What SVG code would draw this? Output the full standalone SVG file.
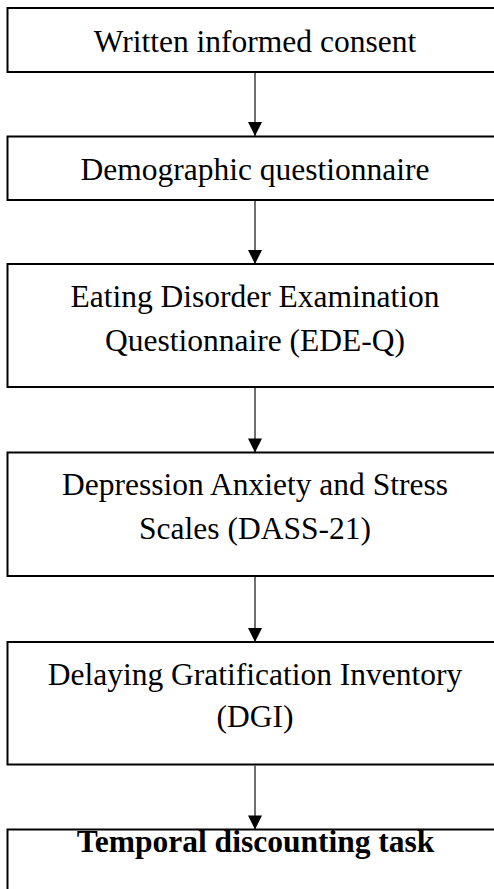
<svg xmlns="http://www.w3.org/2000/svg" width="494" height="889" viewBox="0 0 494 889">
<style>
.box{fill:#fff;stroke:#000;stroke-width:2}
.t{font-family:"Liberation Serif","Times New Roman",serif;font-size:31.5px;fill:#000;text-anchor:middle}
.b{font-weight:bold}
.c{stroke:#222;stroke-width:1.3;fill:none}
</style>
<defs>
<marker id="ah" markerUnits="userSpaceOnUse" markerWidth="16" markerHeight="14" refX="14" refY="7" orient="auto" viewBox="0 0 14 14">
<polygon points="0,0 14,7 0,14" fill="#000"/>
</marker>
</defs>
<rect width="494" height="889" fill="#fff"/>
<g id="connectors">
<line class="c" x1="255" y1="73" x2="255" y2="136" marker-end="url(#ah)"/>
<line class="c" x1="255" y1="201" x2="255" y2="264" marker-end="url(#ah)"/>
<line class="c" x1="255" y1="388" x2="255" y2="452.5" marker-end="url(#ah)"/>
<line class="c" x1="255" y1="577" x2="255" y2="642" marker-end="url(#ah)"/>
<line class="c" x1="255" y1="765.5" x2="255" y2="829.5" marker-end="url(#ah)"/>
</g>
<g id="n1"><rect class="box" x="7.5" y="8" width="500" height="64"/><text class="t" x="255" y="51.5">Written informed consent</text></g>
<g id="n2"><rect class="box" x="7.5" y="136.5" width="500" height="63.5"/><text class="t" x="255" y="180">Demographic questionnaire</text></g>
<g id="n3"><rect class="box" x="7.5" y="264" width="500" height="123"/><text class="t" x="255" y="306.5">Eating Disorder Examination</text><text class="t" x="255" y="350.5">Questionnaire (EDE-Q)</text></g>
<g id="n4"><rect class="box" x="7.5" y="452.5" width="500" height="123.5"/><text class="t" x="255" y="495">Depression Anxiety and Stress</text><text class="t" x="255" y="538.5">Scales (DASS-21)</text></g>
<g id="n5"><rect class="box" x="7.5" y="642" width="500" height="122.5"/><text class="t" x="255" y="685">Delaying Gratification Inventory</text><text class="t" x="255" y="727">(DGI)</text></g>
<g id="n6"><rect class="box" x="7.5" y="829.5" width="500" height="100"/><text class="t b" x="255.5" y="852">Temporal discounting task</text></g>
</svg>
